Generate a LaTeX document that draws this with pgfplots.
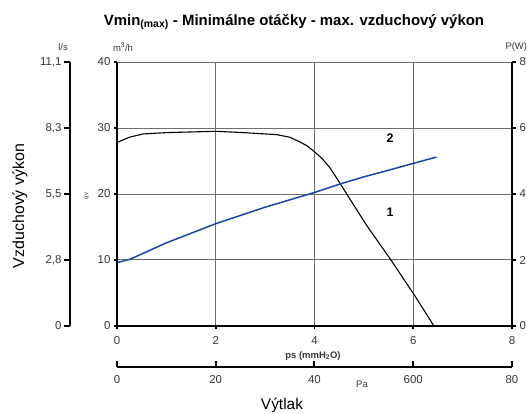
\documentclass[border=0pt]{standalone}
\usepackage{pgfplots}
\pgfplotsset{compat=1.18}
\usepackage{fontspec}
\setmainfont{Liberation Sans}
\definecolor{gridgray}{RGB}{110,110,110}
\definecolor{tickgray}{RGB}{55,55,55}
\definecolor{curveblue}{RGB}{25,70,160}
\begin{document}
\begin{tikzpicture}
\useasboundingbox (0,0) rectangle (527bp,414bp);
\clip (0,0) rectangle (527bp,414bp);
\fill[white] (0,0) rectangle (527bp,414bp);
% main axis
\begin{axis}[
  at={(117bp,88bp)}, anchor=south west,
  scale only axis, width=395bp, height=264bp,
  xmin=0, xmax=8, ymin=0, ymax=40,
  xtick={0,2,4,6,8}, ytick={0,10,20,30,40},
  grid=major, grid style={gridgray, line width=1bp},
  axis line style={draw=none},
  tick style={black, line width=1.5bp},
  major tick length=3bp, tick align=outside,
  xtick pos=bottom, ytick pos=left,
  /pgf/number format/assume math mode=true,
  ticklabel style={font=\fontsize{11.5}{13}\selectfont, text=tickgray},
  yticklabel style={xshift=0bp},
  xticklabel style={yshift=-4bp},
  clip=false,
]
\addplot[black, line width=1.1bp] coordinates {
(0,27.8) (0.25,28.6) (0.53,29.1) (1,29.3) (1.5,29.4) (2,29.5) (2.56,29.3)
(3,29.1) (3.23,29.0) (3.5,28.6) (3.7,27.9) (3.85,27.3) (4.0,26.4) (4.15,25.4)
(4.31,24.0) (4.51,21.7) (4.72,19.2) (5.06,15.2) (5.53,10.2) (6.03,4.6) (6.42,0)
};
\addplot[curveblue, line width=1.5bp] coordinates {
(0,9.6) (0.26,10.1) (1,12.6) (2,15.5) (3,18.0) (4.03,20.3) (4.51,21.5)
(5,22.6) (5.5,23.6) (6.03,24.7) (6.47,25.6)
};
\draw[black, line width=2.6bp] (rel axis cs:0,1) -- (rel axis cs:0,0) -- (rel axis cs:1,0) -- (rel axis cs:1,1);
\node[font=\fontsize{12.5}{14}\selectfont\bfseries] at (axis cs:5.53,28.5) {2};
\node[font=\fontsize{12.5}{14}\selectfont\bfseries] at (axis cs:5.53,17.2) {1};
\end{axis}
% right P(W) axis
\begin{axis}[
  at={(117bp,88bp)}, anchor=south west,
  scale only axis, width=395bp, height=264bp,
  xmin=0, xmax=8, ymin=0, ymax=8,
  hide x axis, axis y line*=right,
  axis line style={draw=none},
  ytick={0,2,4,6,8},
  tick style={black, line width=1.5bp},
  major tick length=4bp, tick align=outside,
  /pgf/number format/assume math mode=true,
  ticklabel style={font=\fontsize{11.5}{13}\selectfont, text=tickgray},
]
\addplot[draw=none] coordinates {(0,0)};
\end{axis}
% left l/s axis
\begin{axis}[
  at={(70bp,88bp)}, anchor=south west,
  scale only axis, width=10bp, height=264bp,
  xmin=0, xmax=1, ymin=0, ymax=11.1,
  hide x axis, axis y line*=left,
  axis line style={line width=2.6bp, -},
  ytick={0,2.775,5.55,8.325,11.1},
  yticklabels={0,{2,8},{5,5},{8,3},{11,1}},
  tick style={black, line width=2bp},
  major tick length=6bp, tick align=outside,
  ticklabel style={font=\fontsize{11.5}{13}\selectfont, text=tickgray},
  yticklabel style={xshift=1bp},
]
\addplot[draw=none] coordinates {(0,0)};
\end{axis}
% bottom Pa axis
\begin{axis}[
  at={(117bp,47bp)}, anchor=south west,
  scale only axis, width=395bp, height=10bp,
  xmin=0, xmax=8, ymin=0, ymax=1,
  hide y axis, axis x line*=bottom,
  axis line style={line width=2.4bp, -},
  xtick={0,2,4,6,8},
  xticklabels={0,20,40,600,80},
  tick style={black, line width=2bp},
  major tick length=6bp, tick align=inside,
  ticklabel style={font=\fontsize{11.5}{13}\selectfont, text=tickgray},
  xticklabel style={yshift=-5bp},
]
\addplot[draw=none] coordinates {(0,0)};
\end{axis}
% texts
\node[font=\fontsize{15}{17}\selectfont\bfseries] at (294bp,392bp) {Vmin\textsubscript{(max)} - Minimálne otáčky - max. vzduchový výkon};
\node[font=\fontsize{16}{18}\selectfont, rotate=90] at (20bp,208bp) {Vzduchový výkon};
\node[font=\fontsize{15.5}{17}\selectfont] at (282bp,9bp) {Výtlak};
\node[font=\fontsize{9.5}{11}\selectfont, text=tickgray] at (63bp,367bp) {l/s};
\node[font=\fontsize{9.5}{11}\selectfont, text=tickgray] at (123bp,367bp) {m\textsuperscript{3}/h};
\node[font=\fontsize{9.5}{11}\selectfont, text=tickgray, anchor=west] at (502bp,367bp) {P(W)};
\node[font=\fontsize{9.5}{11}\selectfont\bfseries, text=tickgray] at (313bp,58bp) {ps (mmH\textsubscript{2}O)};
\node[font=\fontsize{9.5}{11}\selectfont, text=tickgray] at (362bp,30bp) {Pa};
\node[font=\fontsize{6}{7}\selectfont, text=tickgray, rotate=90] at (87bp,218bp) {qv};
\end{tikzpicture}
\end{document}
